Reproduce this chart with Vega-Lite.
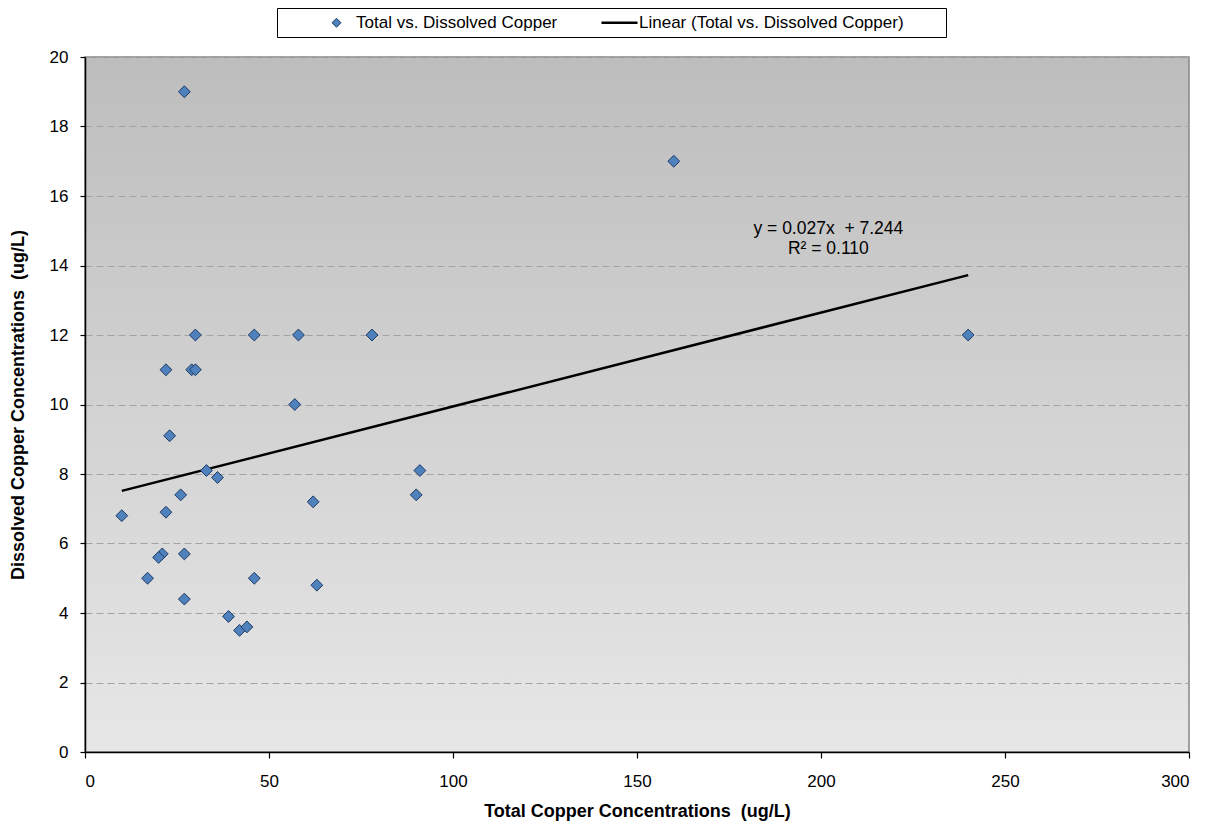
{
  "$schema": "https://vega.github.io/schema/vega-lite/v6.json",
  "width": 1104,
  "height": 695,
  "autosize": {"type": "none"},
  "padding": {"left": 85, "top": 57, "right": 23, "bottom": 80},
  "background": "white",
  "datasets": {
    "points": [
      {"Total": 27, "Dissolved": 19, "series": "Total vs. Dissolved Copper"},
      {"Total": 160, "Dissolved": 17, "series": "Total vs. Dissolved Copper"},
      {"Total": 240, "Dissolved": 12, "series": "Total vs. Dissolved Copper"},
      {"Total": 78, "Dissolved": 12, "series": "Total vs. Dissolved Copper"},
      {"Total": 58, "Dissolved": 12, "series": "Total vs. Dissolved Copper"},
      {"Total": 46, "Dissolved": 12, "series": "Total vs. Dissolved Copper"},
      {"Total": 30, "Dissolved": 12, "series": "Total vs. Dissolved Copper"},
      {"Total": 22, "Dissolved": 11, "series": "Total vs. Dissolved Copper"},
      {"Total": 29, "Dissolved": 11, "series": "Total vs. Dissolved Copper"},
      {"Total": 30, "Dissolved": 11, "series": "Total vs. Dissolved Copper"},
      {"Total": 57, "Dissolved": 10, "series": "Total vs. Dissolved Copper"},
      {"Total": 23, "Dissolved": 9.1, "series": "Total vs. Dissolved Copper"},
      {"Total": 33, "Dissolved": 8.1, "series": "Total vs. Dissolved Copper"},
      {"Total": 36, "Dissolved": 7.9, "series": "Total vs. Dissolved Copper"},
      {"Total": 91, "Dissolved": 8.1, "series": "Total vs. Dissolved Copper"},
      {"Total": 90, "Dissolved": 7.4, "series": "Total vs. Dissolved Copper"},
      {"Total": 62, "Dissolved": 7.2, "series": "Total vs. Dissolved Copper"},
      {"Total": 26, "Dissolved": 7.4, "series": "Total vs. Dissolved Copper"},
      {"Total": 22, "Dissolved": 6.9, "series": "Total vs. Dissolved Copper"},
      {"Total": 10, "Dissolved": 6.8, "series": "Total vs. Dissolved Copper"},
      {"Total": 27, "Dissolved": 5.7, "series": "Total vs. Dissolved Copper"},
      {"Total": 21, "Dissolved": 5.7, "series": "Total vs. Dissolved Copper"},
      {"Total": 20, "Dissolved": 5.6, "series": "Total vs. Dissolved Copper"},
      {"Total": 17, "Dissolved": 5.0, "series": "Total vs. Dissolved Copper"},
      {"Total": 46, "Dissolved": 5.0, "series": "Total vs. Dissolved Copper"},
      {"Total": 63, "Dissolved": 4.8, "series": "Total vs. Dissolved Copper"},
      {"Total": 27, "Dissolved": 4.4, "series": "Total vs. Dissolved Copper"},
      {"Total": 39, "Dissolved": 3.9, "series": "Total vs. Dissolved Copper"},
      {"Total": 42, "Dissolved": 3.5, "series": "Total vs. Dissolved Copper"},
      {"Total": 44, "Dissolved": 3.6, "series": "Total vs. Dissolved Copper"}
    ],
    "trend": [
      {"Total": 10, "Dissolved": 7.514, "series": "Linear (Total vs. Dissolved Copper)"},
      {"Total": 240, "Dissolved": 13.724, "series": "Linear (Total vs. Dissolved Copper)"}
    ],
    "notes": [
      {"Total": 202, "Dissolved": 15.05, "label": "y = 0.027x\u00a0 + 7.244"},
      {"Total": 202, "Dissolved": 14.47, "label": "R² = 0.110"}
    ]
  },
  "layer": [
    {
      "data": {"name": "trend"},
      "mark": {"type": "line", "strokeWidth": 2.5},
      "encoding": {
        "x": {"field": "Total", "type": "quantitative"},
        "y": {"field": "Dissolved", "type": "quantitative"},
        "stroke": {"field": "series", "type": "nominal"}
      }
    },
    {
      "data": {"name": "points"},
      "mark": {"type": "point", "filled": true, "size": 140, "strokeWidth": 1, "opacity": 1},
      "encoding": {
        "x": {
          "field": "Total", "type": "quantitative",
          "scale": {"domain": [0, 300], "nice": false},
          "axis": {"values": [0, 50, 100, 150, 200, 250, 300], "grid": false, "title": "Total Copper Concentrations\u00a0 (ug/L)", "tickSize": 6, "labelPadding": 15, "titlePadding": 13}
        },
        "y": {
          "field": "Dissolved", "type": "quantitative",
          "scale": {"domain": [0, 20], "nice": false},
          "axis": {"values": [0, 2, 4, 6, 8, 10, 12, 14, 16, 18, 20], "grid": true, "gridColor": "#a3a3a3", "gridDash": [7, 4], "gridWidth": 1, "title": "Dissolved Copper Concentrations\u00a0 (ug/L)", "tickSize": 5, "labelPadding": 12, "titlePadding": 22}
        },
        "fill": {
          "field": "series", "type": "nominal",
          "scale": {"domain": ["Total vs. Dissolved Copper", "Linear (Total vs. Dissolved Copper)"], "range": ["#4f81bd", "black"]},
          "legend": {
            "labelExpr": "indexof(datum.label, 'Linear') == 0 ? datum.label + '\u2800\u2800\u2800' : datum.label",
            "encode": {
              "symbols": {
                "update": {
                  "size": {"signal": "datum.index == 0 ? 80 : 1300"},
                  "strokeWidth": {"signal": "datum.index == 0 ? 1 : 2.5"}
                }
              }
            }
          }
        },
        "stroke": {
          "field": "series", "type": "nominal",
          "scale": {"domain": ["Total vs. Dissolved Copper", "Linear (Total vs. Dissolved Copper)"], "range": ["#1f3a63", "black"]}
        },
        "shape": {
          "field": "series", "type": "nominal",
          "scale": {"domain": ["Total vs. Dissolved Copper", "Linear (Total vs. Dissolved Copper)"], "range": ["diamond", "stroke"]}
        }
      }
    },
    {
      "data": {"name": "notes"},
      "mark": {"type": "text", "font": "Liberation Sans", "fontSize": 17.5, "color": "black", "align": "center", "baseline": "middle"},
      "encoding": {
        "x": {"field": "Total", "type": "quantitative"},
        "y": {"field": "Dissolved", "type": "quantitative"},
        "text": {"field": "label"}
      }
    }
  ],
  "config": {
    "view": {
      "stroke": "#868686",
      "strokeWidth": 1.5,
      "fill": {"gradient": "linear", "x1": 0, "y1": 0, "x2": 0, "y2": 1, "stops": [{"offset": 0, "color": "#bdbdbd"}, {"offset": 1, "color": "#e7e7e7"}]}
    },
    "legend": {
      "orient": "none", "legendX": 192, "legendY": -49, "direction": "horizontal", "title": null,
      "strokeColor": "black", "fillColor": "white", "padding": 6,
      "labelFont": "Liberation Sans", "labelFontSize": 17, "labelColor": "black", "labelLimit": 600,
      "symbolSize": 400, "symbolOffset": 45, "labelOffset": 11, "columnPadding": 8,
      "symbolOpacity": 1
    },
    "axis": {
      "labelFont": "Liberation Sans", "labelFontSize": 17, "labelColor": "black",
      "titleFont": "Liberation Sans", "titleFontSize": 18, "titleFontWeight": "bold", "titleColor": "black",
      "tickColor": "black", "domainColor": "black", "domainWidth": 1.5, "tickWidth": 1.2
    }
  }
}
